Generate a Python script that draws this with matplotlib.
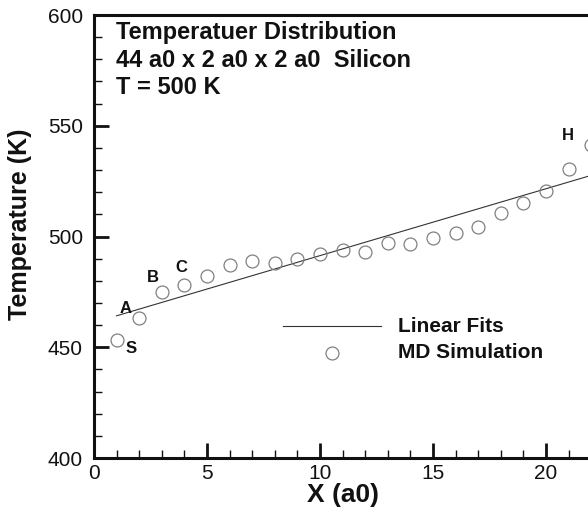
import matplotlib
matplotlib.use("Agg")
import matplotlib.pyplot as plt
from matplotlib.ticker import MultipleLocator

plt.rcParams['font.family'] = ['Liberation Sans', 'DejaVu Sans']

# MD simulation data
md_x = [1, 2, 3, 4, 5, 6, 7, 8, 9, 10, 11, 12, 13, 14, 15, 16, 17, 18, 19, 20, 21, 22]
md_T = [453.3, 463.2, 475.1, 478.0, 482.3, 487.0, 489.0, 488.0, 489.8, 492.3, 493.8, 493.0,
        497.2, 496.8, 499.2, 501.6, 504.4, 510.5, 515.3, 520.4, 530.6, 541.3]

# Linear fit endpoints
fit_x = [1, 22]
fit_T = [464.2, 527.6]

# Point labels
lab_text = ['S', 'A', 'B', 'C', 'H']
lab_x = [1.65, 1.4, 2.6, 3.85, 20.95]
lab_T = [449.5, 467.5, 481.5, 486.0, 545.5]

title_lines = ['Temperatuer Distribution', '44 a0 x 2 a0 x 2 a0  Silicon', 'T = 500 K']

fig = plt.figure(figsize=(5.88, 5.11), dpi=100)
W, H = 588, 511
px_per_x = 22.6
xmax = 22.4
ax = fig.add_axes([94 / W, (H - 458) / H, xmax * px_per_x / W, (458 - 15) / H])
ax.set_xlim(0, xmax)
ax.set_ylim(400, 600)

ax.plot(fit_x, fit_T, color='#333333', lw=0.8, clip_on=False)
ax.plot(md_x, md_T, linestyle='none', marker='o', markersize=9.3, markerfacecolor='none',
        markeredgecolor='#808080', markeredgewidth=0.9, clip_on=False)

for t, x, y in zip(lab_text, lab_x, lab_T):
    ax.text(x, y, t, fontsize=12, fontweight='bold', ha='center', va='center', color='#111111')

for i, line in enumerate(title_lines):
    ax.text(116 / W, 1 - (33 + 27.5 * i) / H, line, transform=fig.transFigure, fontsize=17,
            fontweight='bold', ha='left', va='center', color='#111111')

# Legend (drawn manually)
fig.add_artist(plt.Line2D([283 / W, 381 / W], [1 - 326 / H, 1 - 326 / H], color='#333333', lw=0.8))
fig.add_artist(plt.Line2D([332 / W], [1 - 352.5 / H], linestyle='none', marker='o', markersize=9.3,
                          markerfacecolor='none', markeredgecolor='#808080', markeredgewidth=0.9))
fig.text(398 / W, 1 - 326 / H, 'Linear Fits', fontsize=15, fontweight='bold', va='center', color='#111111')
fig.text(398 / W, 1 - 352.5 / H, 'MD Simulation', fontsize=15, fontweight='bold', va='center', color='#111111')

ax.xaxis.set_major_locator(MultipleLocator(5))
ax.xaxis.set_minor_locator(MultipleLocator(1))
ax.yaxis.set_major_locator(MultipleLocator(50))
ax.yaxis.set_minor_locator(MultipleLocator(10))
ax.tick_params(which='major', direction='in', length=11, width=2, labelsize=15, pad=4, color='#111111',
               labelcolor='#111111')
ax.tick_params(which='minor', direction='in', length=6, width=1, color='#111111')
ax.tick_params(axis='y', which='major', pad=8)

for s in ['left', 'bottom', 'top']:
    ax.spines[s].set_linewidth(2.2)
    ax.spines[s].set_color('#111111')
ax.spines['right'].set_visible(False)

fig.text(343 / W, 1 - 495 / H, 'X (a0)', fontsize=19, fontweight='bold', ha='center', va='center',
         color='#111111')
fig.text(20 / W, 1 - 224 / H, 'Temperature (K)', fontsize=18, fontweight='bold', ha='center',
         va='center', rotation=90, color='#111111')

fig.savefig('out.png', dpi=100)
